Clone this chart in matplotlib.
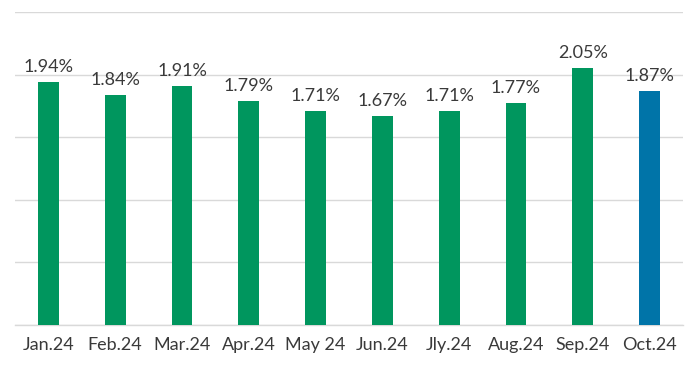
import matplotlib
matplotlib.use("Agg")
import matplotlib.pyplot as plt

months = ["Jan.24", "Feb.24", "Mar.24", "Apr.24", "May 24", "Jun.24", "Jly.24", "Aug.24", "Sep.24", "Oct.24"]
values = [1.94, 1.84, 1.91, 1.79, 1.71, 1.67, 1.71, 1.77, 2.05, 1.87]
labels = ["1.94%", "1.84%", "1.91%", "1.79%", "1.71%", "1.67%", "1.71%", "1.77%", "2.05%", "1.87%"]
colors = ["#00965E"] * 9 + ["#0074A8"]

plt.rcParams['font.family'] = ['Lato', 'DejaVu Sans']

fig = plt.figure(figsize=(7, 3.68), dpi=100)
ax = fig.add_axes([15/700, 1 - 325/368, 668/700, 313/368])
x = list(range(len(months)))
ax.bar(x, values, width=0.31, color=colors, zorder=3)
for xi, v, lab in zip(x, values, labels):
    ax.annotate(lab, (xi, v), xytext=(0, 5), textcoords="offset points",
                ha="center", va="bottom", fontsize=13,
                color="#3a3a3a", zorder=4)
ax.set_xlim(-0.5, 9.5)
ax.set_ylim(0, 2.5)
ax.set_yticks([0, 0.5, 1.0, 1.5, 2.0, 2.5])
ax.yaxis.grid(True, color="#d9d9d9", linewidth=1)
ax.set_axisbelow(True)
ax.tick_params(axis="y", left=False, labelleft=False)
ax.tick_params(axis="x", bottom=False, labelsize=13, labelcolor="#3a3a3a", pad=5)
ax.set_xticks(x)
ax.set_xticklabels(months)
for s in ["top", "right", "left"]:
    ax.spines[s].set_visible(False)
ax.spines["bottom"].set_color("#d9d9d9")
ax.spines["bottom"].set_linewidth(1)
fig.savefig("out.png", dpi=100)
